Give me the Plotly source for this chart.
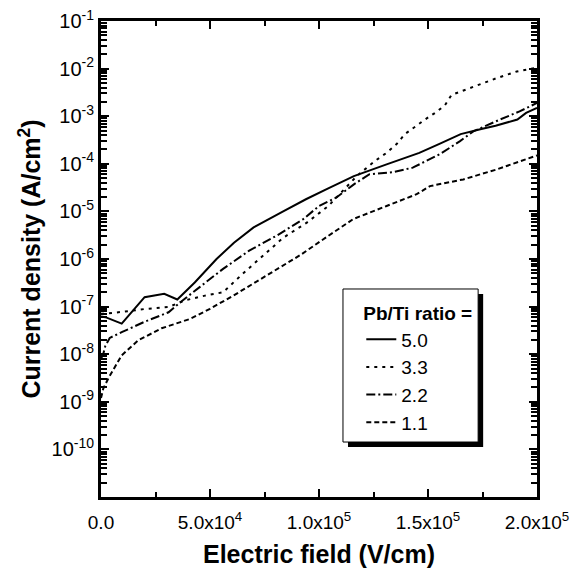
import plotly.graph_objects as go

# Electric field (V/cm) and current density (A/cm^2) for each Pb/Ti ratio
x_50 = [0, 2000, 9500, 20000, 29000, 35000, 43000, 53000, 61000, 70000, 84000, 94000,
        104000, 116000, 131000, 146000, 155000, 165000, 174000, 181000, 191000, 195000, 200000]
y_50 = [6.2e-8, 6.0e-8, 4.4e-8, 1.58e-7, 1.86e-7, 1.41e-7, 3.2e-7, 1.0e-6, 2.2e-6, 4.6e-6,
        1.02e-5, 1.8e-5, 3.0e-5, 5.5e-5, 9.7e-5, 1.7e-4, 2.6e-4, 4.2e-4, 5.3e-4, 6.3e-4,
        8.5e-4, 1.17e-3, 1.5e-3]

x_33 = [0, 2000, 12500, 20000, 31000, 38500, 47700, 56000, 65000, 74500, 83600, 94400, 104300,
        117300, 125700, 131000, 135600, 139400, 143300, 148600, 153200, 157800, 160800, 167000,
        173900, 181500, 190700, 198300, 200000]
y_33 = [7.1e-8, 7.1e-8, 8.0e-8, 8.9e-8, 9.8e-8, 1.35e-7, 1.7e-7, 2.0e-7, 4.9e-7, 1.2e-6, 2.8e-6,
        5.8e-6, 1.3e-5, 5.5e-5, 1.15e-4, 1.7e-4, 2.6e-4, 4.2e-4, 5.7e-4, 8.5e-4, 1.17e-3, 1.7e-3,
        2.8e-3, 3.6e-3, 4.6e-3, 6.3e-3, 8.7e-3, 1.02e-2, 1.05e-2]

x_22 = [0, 1000, 2000, 4000, 9500, 20000, 31000, 37000, 45400, 56000, 68000, 80600, 92800,
        100000, 108000, 116000, 123000, 134000, 143000, 155500, 164700, 170800, 183000, 192000, 200000]
y_22 = [8e-9, 1e-8, 1.5e-8, 2.2e-8, 2.9e-8, 4.8e-8, 7.6e-8, 1.3e-7, 2.6e-7, 6.2e-7, 1.5e-6,
        3.1e-6, 6.9e-6, 1.3e-5, 1.96e-5, 3.7e-5, 6.0e-5, 6.7e-5, 8.3e-5, 1.6e-4, 3.0e-4, 4.8e-4,
        8.5e-4, 1.26e-3, 1.9e-3]

x_11 = [0, 1050, 3350, 9500, 17100, 27800, 40800, 50000, 60700, 76000, 91300, 104000, 115700,
        131000, 144800, 150900, 166200, 181500, 199100, 200000]
y_11 = [1.2e-9, 1.9e-9, 3.1e-9, 9.5e-9, 1.96e-8, 3.5e-8, 5.5e-8, 9.0e-8, 1.7e-7, 4.5e-7, 1.2e-6,
        3.0e-6, 6.9e-6, 1.3e-5, 2.3e-5, 3.4e-5, 4.7e-5, 7.6e-5, 1.45e-4, 1.5e-4]

series_names = ["5.0", "3.3", "2.2", "1.1"]
x_tickvals = [0, 50000, 100000, 150000, 200000]
x_ticktext = ["0.0", "5.0x10<sup>4</sup>", "1.0x10<sup>5</sup>", "1.5x10<sup>5</sup>", "2.0x10<sup>5</sup>"]
x_minorvals = [25000, 75000, 125000, 175000]
y_exponents = [-10, -9, -8, -7, -6, -5, -4, -3, -2, -1]
y_tickvals = [10.0 ** e for e in y_exponents]
y_ticktext = ["10<sup>%d</sup>" % e for e in y_exponents]
y_minorvals = [m * 10.0 ** e for e in range(-11, -1) for m in range(2, 10)]

FONT = "Liberation Sans, Arial, sans-serif"

fig = go.Figure()
styles = ["solid", "3px,5px", "9px,3px,2px,3px", "5px,3px"]
for (xs, ys), name, dash in zip([(x_50, y_50), (x_33, y_33), (x_22, y_22), (x_11, y_11)],
                                series_names, styles):
    fig.add_trace(go.Scatter(x=xs, y=ys, mode="lines", name=name,
                             line=dict(color="black", width=2, dash=dash)))

# empty trace so the overlay axes carrying the minor ticks get drawn
fig.add_trace(go.Scatter(x=[None], y=[None], xaxis="x2", yaxis="y2", mode="lines",
                         showlegend=False, hoverinfo="skip"))

# legend frame with drop shadow (paper coordinates)
bx0, bx1, by0, by1 = 0.555, 0.865, 0.1155, 0.437
sdx, sdy = 0.0115, 0.0105
fig.add_shape(type="rect", xref="paper", yref="paper", x0=bx0 + sdx, x1=bx1 + sdx,
              y0=by0 - sdy, y1=by1 - sdy, fillcolor="black", line=dict(width=0), layer="above")
fig.add_shape(type="rect", xref="paper", yref="paper", x0=bx0, x1=bx1, y0=by0, y1=by1,
              fillcolor="white", line=dict(color="black", width=1), layer="above")

axis_common = dict(showgrid=False, zeroline=False, tickcolor="black",
                   showline=True, linewidth=3, linecolor="black")

# the page body adds an 8px offset, so margins are shifted to compensate
fig.update_layout(
    width=585, height=572,
    margin=dict(l=93, r=56, t=13, b=83, autoexpand=False),
    paper_bgcolor="white", plot_bgcolor="white",
    font=dict(family=FONT, color="black", size=18),
    showlegend=True,
    legend=dict(
        x=bx0 + 0.042, y=by1 - 0.014, xanchor="left", yanchor="top",
        bgcolor="rgba(0,0,0,0)", borderwidth=0,
        title=dict(text="<b>Pb/Ti ratio =</b>", font=dict(size=19, family=FONT), side="top"),
        font=dict(size=19, family=FONT),
        tracegroupgap=0,
    ),
    xaxis=dict(
        range=[0, 200000], tickmode="array", tickvals=x_tickvals, ticktext=x_ticktext,
        ticks="inside", ticklen=8, tickwidth=2, mirror="allticks", ticklabelstandoff=6,
        ticklabeloverflow="allow",
        minor=dict(tickvals=x_minorvals, ticks="inside", ticklen=5,
                   tickwidth=2, tickcolor="black", showgrid=False),
        tickfont=dict(size=19, family=FONT),
        title=dict(text="<b>Electric field (V/cm)</b>", font=dict(size=25, family=FONT), standoff=14),
        **axis_common,
    ),
    xaxis2=dict(
        overlaying="x", side="top", anchor="y2", range=[0, 200000],
        tickmode="array", tickvals=x_minorvals, ticks="inside", ticklen=5, tickwidth=2,
        showticklabels=False, **axis_common,
    ),
    yaxis=dict(
        type="log", range=[-11, -1], tickmode="array", tickvals=y_tickvals, ticktext=y_ticktext,
        ticks="inside", ticklen=8, tickwidth=2, mirror="allticks", ticklabeloverflow="allow",
        tickfont=dict(size=20, family=FONT),
        title=dict(text="<b>Current density (A/cm<sup>2</sup>)</b>", font=dict(size=25, family=FONT), standoff=4),
        **axis_common,
    ),
    yaxis2=dict(
        type="log", overlaying="y", side="left", anchor="x2", range=[-11, -1],
        tickmode="array", tickvals=y_minorvals, ticks="inside", ticklen=6, tickwidth=1.5,
        showticklabels=False, mirror="ticks", **axis_common,
    ),
)

fig.write_html("out.html")
